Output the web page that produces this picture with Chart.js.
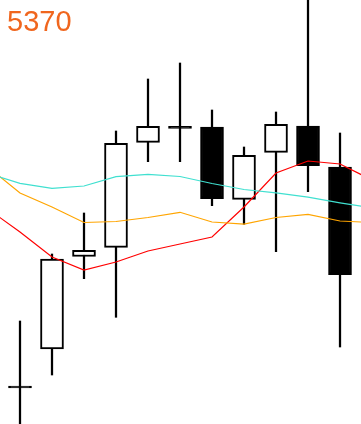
<!DOCTYPE html>
<html lang="en">
<head>
    <meta charset="UTF-8">
    <title>5370</title>
    <script src="https://cdn.jsdelivr.net/npm/chart.js"></script>
    <style>
        html, body {
            margin: 0;
            padding: 0;
            background-color: white;
        }
        .wrap {
            position: relative;
            width: 361px;
            height: 424px;
        }
        .code {
            position: absolute;
            left: 7px;
            top: 7px;
            font-family: "Liberation Sans", Arial, sans-serif;
            font-size: 29px;
            line-height: 29px;
            color: #f0661e;
        }
    </style>
</head>
<body>
    <div class="wrap">
        <canvas id="chart" width="361" height="424"></canvas>
        <div class="code">5370</div>
    </div>

    <script>
        // candle values (price units), one per bar
        const openP  = [36, 75, 167.5, 176.7, 281.7, 295.7, 297, 224.7, 271.7, 298, 257];
        const highP  = [103, 170, 211, 293, 345, 361, 314, 277, 312, 430, 291];
        const lowP   = [-10, 49, 145.3, 106.7, 262.3, 262.3, 218.3, 199.7, 172.3, 232.3, 77];
        const closeP = [36, 165, 173.7, 280.7, 297.7, 295.7, 225.3, 268.7, 299.7, 258.3, 149.3];

        // moving averages, one point per bar plus one on each side (index -1 .. 11)
        const maIndex = [-1, 0, 1, 2, 3, 4, 5, 6, 7, 8, 9, 10, 11];
        const maRed    = [215, 192, 167, 154, 162, 173, 180, 187, 217, 251, 263, 260, 244];
        const maOrange = [257, 231, 217, 201.5, 202.5, 206.5, 211.7, 202, 199.8, 206.5, 209.7, 203, 201.5];
        const maCyan   = [250.5, 240.7, 235.7, 238, 247.3, 249.7, 247.5, 240.5, 234.5, 231.2, 226.8, 221.2, 216];

        const wicks = openP.map((o, i) => ({ x: i, y: [lowP[i], highP[i]] }));
        const bodies = openP.map((o, i) => ({ x: i, y: [o, closeP[i]] }));
        const bodyFill = openP.map((o, i) => closeP[i] > o ? 'white' : 'black');

        function maLine(values, color) {
            return {
                type: 'line',
                data: values.map((v, i) => ({ x: maIndex[i], y: v })),
                borderColor: color,
                borderWidth: 1.2,
                pointRadius: 0,
                tension: 0,
                order: 0,
            };
        }

        new Chart(document.getElementById('chart'), {
            type: 'bar',
            data: {
                datasets: [
                    maLine(maCyan, '#40e0d0'),
                    maLine(maOrange, '#ffa500'),
                    maLine(maRed, '#ff0000'),
                    {
                        data: bodies,
                        backgroundColor: bodyFill,
                        borderColor: 'black',
                        borderWidth: 2,
                        borderSkipped: false,
                        barThickness: 23,
                        minBarLength: 2,
                        grouped: false,
                        order: 1,
                    },
                    {
                        data: wicks,
                        backgroundColor: 'black',
                        borderWidth: 0,
                        barThickness: 1.6,
                        grouped: false,
                        order: 2,
                    },
                ],
            },
            options: {
                responsive: false,
                animation: false,
                layout: { padding: 0 },
                plugins: {
                    legend: { display: false },
                    tooltip: { enabled: false },
                },
                scales: {
                    x: { type: 'linear', display: false, offset: false, min: -0.625, max: 10.656 },
                    y: { display: false, min: 0, max: 424 },
                },
            },
        });
    </script>
</body>
</html>
